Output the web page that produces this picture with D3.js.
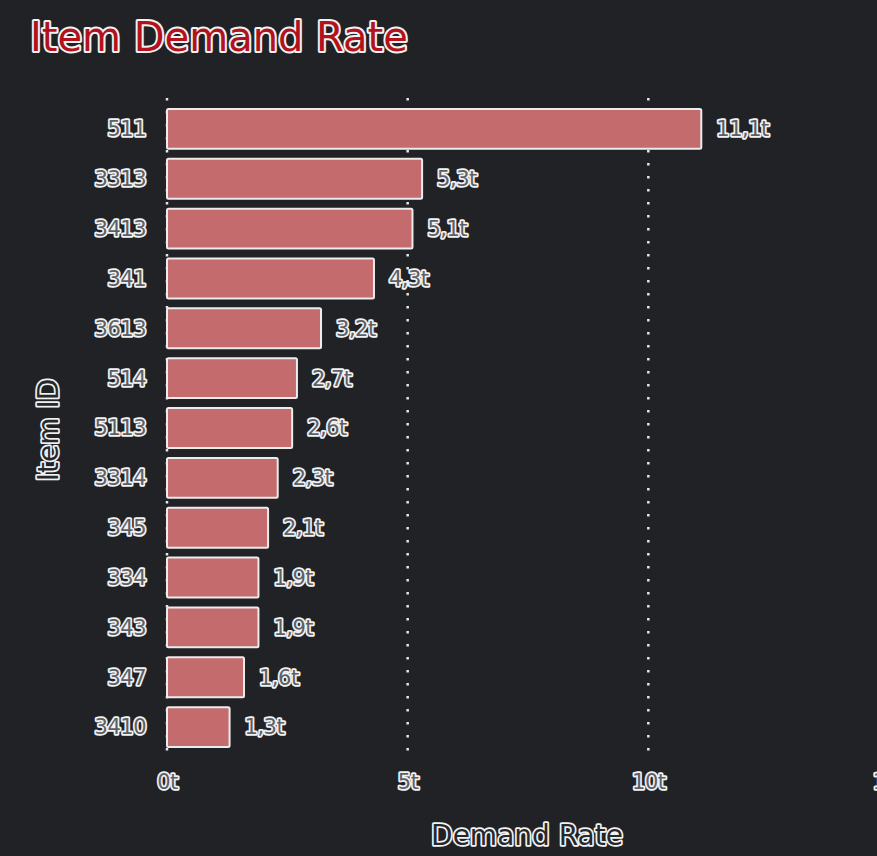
<!DOCTYPE html>
<html>
<head>
<meta charset="utf-8">
<script src="https://cdnjs.cloudflare.com/ajax/libs/d3/7.8.5/d3.min.js"></script>
<style>
  body { margin: 0; background: #202226; overflow: hidden; }
  .outl { paint-order: stroke; stroke-linejoin: round; }
</style>
</head>
<body>
<div class="canvas"></div>
<script>
const items = ['511', '3313', '3413', '341', '3613', '514', '5113', '3314', '345', '334', '343', '347', '3410'];
const rates = [11.1, 5.3, 5.1, 4.3, 3.2, 2.7, 2.6, 2.3, 2.1, 1.9, 1.9, 1.6, 1.3];
const xTicks = [0, 5, 10, 15];

const width = 877, height = 856;
const font = "'DejaVu Sans', sans-serif";

const svg = d3.select('.canvas').append('svg')
    .attr('width', width)
    .attr('height', height)
    .style('background', '#202226');

const x = d3.scaleLinear()
    .domain([0, 15])
    .range([167, 889]);

const y = d3.scaleBand()
    .domain(items)
    .range([104, 752])
    .paddingInner(0.2)
    .paddingOuter(0.1);

const fmt = v => (v === 0 ? '0' : String(v).replace('.', ',')) + 't';

// gridlines
svg.append('g')
    .selectAll('line')
    .data(xTicks)
    .enter()
    .append('line')
    .attr('x1', d => x(d))
    .attr('x2', d => x(d))
    .attr('y1', 98)
    .attr('y2', 758)
    .attr('stroke', '#e8e8e8')
    .attr('stroke-width', 2.5)
    .attr('stroke-dasharray', '2.5,10.5');

// bars
svg.append('g')
    .selectAll('rect')
    .data(rates)
    .enter()
    .append('rect')
    .attr('x', x(0))
    .attr('y', (d, i) => y(items[i]))
    .attr('width', d => x(d) - x(0))
    .attr('height', y.bandwidth())
    .attr('rx', 1.5)
    .attr('fill', '#c46b6e')
    .attr('stroke', '#ececec')
    .attr('stroke-width', 2);

function outline(sel, fill, size) {
    sel.attr('class', 'outl')
        .attr('font-family', font)
        .attr('font-size', size)
        .attr('fill', fill)
        .attr('stroke', '#f2f2f2')
        .attr('stroke-width', 3.5);
}

// value labels
svg.append('g')
    .selectAll('text')
    .data(rates)
    .enter()
    .append('text')
    .attr('x', d => x(d) + 15)
    .attr('y', (d, i) => y(items[i]) + y.bandwidth() / 2)
    .attr('dy', '0.35em')
    .call(outline, '#5c6066', 21)
    .attr('letter-spacing', -0.5)
    .text(d => fmt(d));

// y axis labels
const yAxis = d3.axisLeft(y).tickSize(0).tickPadding(0);
const gy = svg.append('g')
    .attr('transform', 'translate(146, 0)')
    .call(yAxis);
gy.select('.domain').remove();
gy.selectAll('text')
    .attr('dy', '0.35em')
    .call(outline, '#5c6066', 21)
    .attr('letter-spacing', -0.5);

// x axis labels
const xAxis = d3.axisBottom(x).tickValues(xTicks).tickFormat(fmt).tickSize(0).tickPadding(0);
const gx = svg.append('g')
    .attr('transform', 'translate(0, 782)')
    .call(xAxis);
gx.select('.domain').remove();
gx.selectAll('text')
    .attr('dy', '0.35em')
    .call(outline, '#5c6066', 21)
    .attr('letter-spacing', -0.5);

// title
svg.append('text')
    .attr('x', 30)
    .attr('y', 51)
    .call(outline, '#b3121c', 40)
    .attr('stroke-width', 4)
    .text('Item Demand Rate');

// x axis title
svg.append('text')
    .attr('x', 527)
    .attr('y', 845)
    .attr('text-anchor', 'middle')
    .call(outline, '#26282c', 28)
    .text('Demand Rate');

// y axis title
svg.append('text')
    .attr('transform', 'translate(58, 430) rotate(-90)')
    .attr('text-anchor', 'middle')
    .call(outline, '#26282c', 28)
    .text('Item ID');
</script>
</body>
</html>
